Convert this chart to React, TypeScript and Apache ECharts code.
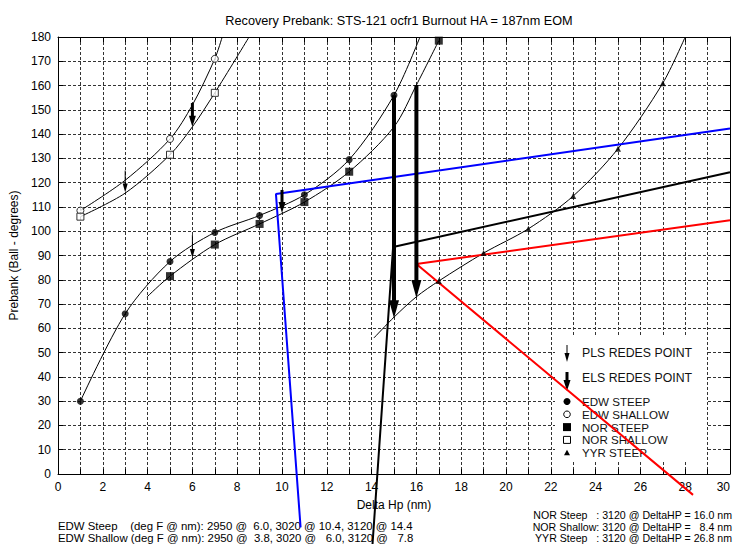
import React, { useEffect, useRef } from "react";
import * as echarts from "echarts";

// ---------- data ----------
const titleText = "Recovery Prebank: STS-121 ocfr1 Burnout HA = 187nm EOM";
const xName = "Delta Hp (nm)";
const yName = "Prebank (Ball - degrees)";

// markers
const edwSteepX = [1, 3, 5, 7, 9, 11, 13, 15];
const edwSteepY = [30, 66, 87.5, 99.5, 106.5, 115, 129.5, 156];
const edwShallowX = [1, 5, 7];
const edwShallowY = [108.5, 138, 171];
const norSteepX = [5, 7, 9, 11, 13, 17];
const norSteepY = [81.5, 94.5, 103, 112, 124.5, 178.5];
const norShallowX = [1, 5, 7];
const norShallowY = [106, 131.5, 157];
const yyrSteepX = [17, 19, 21, 23, 25, 27];
const yyrSteepY = [79.5, 91, 101, 114.5, 134, 161];

// extra curve points (not markers)
const edwSteepCurveExtra = [[16.16, 180]];
const edwShallowCurveExtra = [[3, 121], [6, 152], [7.33, 180]];
const norSteepCurveExtra = [[3.97, 72.9], [15, 143], [16, 160.2]];
const norShallowCurveExtra = [[3, 115.7], [6, 143], [8.53, 180]];
const yyrSteepCurveExtra = [[14.1, 56], [15, 64.6], [16, 73], [28, 180]];

// straight constraint lines (broken lines)
const blueLine = [[10.83, -22], [9.73, 115.3], [30, 142.3]];
const blackLine = [[14.04, -29], [14.96, 93.5], [30, 124.3]];
const redLine = [[28.35, -8.6], [16, 86.5], [30, 104.5]];

// redesignation arrows
const arrowX = [3, 6, 6, 10, 15, 16];
const arrowFrom = [125, 98.4, 152.8, 117, 156, 160.2];
const arrowTo = [116, 89, 143, 107.5, 64.2, 72.5];
const arrowKind = ["PLS", "PLS", "ELS", "ELS", "ELS", "ELS"];

// legend labels
const legendLabels = [
  "PLS REDES POINT",
  "ELS REDES POINT",
  "EDW STEEP",
  "EDW SHALLOW",
  "NOR STEEP",
  "NOR SHALLOW",
  "YYR STEEP",
];

// footnotes
const footLeft = [
  "EDW Steep    (deg F @ nm): 2950 @  6.0, 3020 @ 10.4, 3120 @ 14.4",
  "EDW Shallow (deg F @ nm): 2950 @  3.8, 3020 @   6.0, 3120 @   7.8",
];
const footRight = [
  "NOR Steep   : 3120 @ DeltaHP = 16.0 nm",
  "NOR Shallow: 3120 @ DeltaHP =   8.4 nm",
  "YYR Steep   : 3120 @ DeltaHP = 26.8 nm",
];

// ---------- helpers ----------
const FONT = '"Liberation Sans", Arial, sans-serif';
const zip = (xs: number[], ys: number[]) => xs.map((x, i) => [x, ys[i]]);
const curve = (xs: number[], ys: number[], extra: number[][]) =>
  zip(xs, ys).concat(extra).sort((a, b) => a[0] - b[0]);

const curveSeries = (data: number[][]) => ({
  type: "line",
  data,
  smooth: 0.3,
  showSymbol: false,
  symbol: "none",
  clip: true,
  lineStyle: { color: "#000", width: 1 },
  z: 2,
  silent: true,
});

const markerSeries = (data: number[][], symbol: string, size: number, filled: boolean) => ({
  type: "scatter",
  data,
  symbol,
  symbolSize: size,
  itemStyle: filled
    ? { color: "#000" }
    : { color: "#fff", borderColor: "#000", borderWidth: 1 },
  z: 6,
  silent: true,
});

const straightSeries = (data: number[][], color: string) => ({
  type: "line",
  data,
  symbol: "none",
  clip: false,
  lineStyle: { color, width: 2 },
  z: 4,
  silent: true,
});

export default function App() {
  const ref = useRef<HTMLDivElement>(null);

  useEffect(() => {
    if (!ref.current) return;
    const chart = echarts.init(ref.current, undefined, { renderer: "svg" });

    const arrowData = arrowX.map((x, i) => [x, arrowFrom[i], arrowTo[i], arrowKind[i] === "ELS" ? 1 : 0]);

    const dashed = { type: [3, 2], color: "#333", width: 1 };
    const xAxisBase = {
      type: "value",
      min: 0,
      max: 30,
      interval: 2,
      axisLine: { show: true, onZero: false, lineStyle: { color: "#000", width: 1 } },
      axisTick: { show: true, inside: true, length: 5, lineStyle: { color: "#000" } },
      minorTick: { show: true, splitNumber: 2, length: 5, lineStyle: { color: "#000" } },
    };
    const yAxisBase = {
      type: "value",
      min: 0,
      max: 180,
      interval: 10,
      axisLine: { show: true, onZero: false, lineStyle: { color: "#000", width: 1 } },
      axisTick: { show: true, inside: true, length: 5, lineStyle: { color: "#000" } },
    };

    // legend graphic
    const lx = 567;
    const tx = 582;
    const ly = [353, 378, 401.5, 414.3, 427.1, 439.9, 452.7];
    const legendGraphic: any[] = [
      {
        type: "rect",
        z: 1,
        shape: { x: 555, y: 336, width: 151, height: 125 },
        style: { fill: "#fff" },
        silent: true,
      },
      // thin arrow
      { type: "line", z: 3, shape: { x1: lx, y1: 345, x2: lx, y2: 357 }, style: { stroke: "#000", lineWidth: 1 } },
      { type: "polygon", z: 3, shape: { points: [[lx - 2.5, 353], [lx + 2.5, 353], [lx, 362]] }, style: { fill: "#000" } },
      // thick arrow
      { type: "line", z: 3, shape: { x1: lx, y1: 372, x2: lx, y2: 384 }, style: { stroke: "#000", lineWidth: 3 } },
      { type: "polygon", z: 3, shape: { points: [[lx - 3.5, 380], [lx + 3.5, 380], [lx, 391]] }, style: { fill: "#000" } },
      // markers
      { type: "circle", z: 3, shape: { cx: lx, cy: ly[2], r: 3.5 }, style: { fill: "#000" } },
      { type: "circle", z: 3, shape: { cx: lx, cy: ly[3], r: 3.3 }, style: { fill: "#fff", stroke: "#000", lineWidth: 1 } },
      { type: "rect", z: 3, shape: { x: lx - 4, y: ly[4] - 4, width: 8, height: 8 }, style: { fill: "#000" } },
      { type: "rect", z: 3, shape: { x: lx - 3.5, y: ly[5] - 3.5, width: 7, height: 7 }, style: { fill: "#fff", stroke: "#000", lineWidth: 1 } },
      { type: "polygon", z: 3, shape: { points: [[lx - 3, ly[6] + 2.5], [lx + 3, ly[6] + 2.5], [lx, ly[6] - 3]] }, style: { fill: "#000" } },
    ];
    legendLabels.forEach((t, i) => {
      legendGraphic.push({
        type: "text",
        z: 3,
        x: tx,
        y: ly[i],
        style: { text: t, fill: "#111", font: `${i < 2 ? 12.3 : 11.6}px ${FONT}`, align: "left", verticalAlign: "middle" },
      });
    });
    const footGraphic: any[] = [];
    footLeft.forEach((t, i) => {
      footGraphic.push({
        type: "text",
        z: 3,
        x: 58,
        y: 526 + i * 11.5,
        style: { text: t, fill: "#000", font: `11.4px ${FONT}`, align: "left", verticalAlign: "middle" },
      });
    });
    footRight.forEach((t, i) => {
      footGraphic.push({
        type: "text",
        z: 3,
        x: 732,
        y: 515 + i * 11.5,
        style: { text: t, fill: "#000", font: `10.6px ${FONT}`, align: "right", verticalAlign: "middle" },
      });
    });

    chart.setOption({
      animation: false,
      backgroundColor: "#fff",
      textStyle: { fontFamily: FONT },
      title: {
        text: titleText,
        left: 394,
        top: 9,
        textAlign: "center",
        textStyle: { fontSize: 12.7, fontWeight: "normal", color: "#000", fontFamily: FONT },
      },
      grid: { left: 58, right: 3, top: 37, bottom: 70, show: false, outerBoundsMode: "none", containLabel: false },
      xAxis: [
        {
          ...xAxisBase,
          position: "bottom",
          name: xName,
          nameLocation: "middle",
          nameGap: 25,
          nameTextStyle: { fontSize: 12, color: "#000", fontFamily: FONT },
          axisLabel: { fontSize: 12, color: "#000", margin: 7, fontFamily: FONT, alignMaxLabel: "right" },
          splitLine: { show: true, lineStyle: dashed },
          minorSplitLine: { show: true, lineStyle: dashed },
        },
        {
          ...xAxisBase,
          position: "top",
          axisLabel: { show: false },
          splitLine: { show: false },
        },
      ],
      yAxis: [
        {
          ...yAxisBase,
          position: "left",
          name: yName,
          nameLocation: "middle",
          nameGap: 34,
          nameTextStyle: { fontSize: 12, color: "#000", fontFamily: FONT },
          axisLabel: { fontSize: 12, color: "#000", margin: 7, fontFamily: FONT },
          splitLine: { show: true, lineStyle: dashed },
        },
        {
          ...yAxisBase,
          position: "right",
          axisLabel: { show: false },
          splitLine: { show: false },
        },
      ],
      graphic: { elements: [...legendGraphic, ...footGraphic] },
      series: [
        curveSeries(curve(edwSteepX, edwSteepY, edwSteepCurveExtra)),
        curveSeries(curve(edwShallowX, edwShallowY, edwShallowCurveExtra)),
        curveSeries(curve(norSteepX, norSteepY, norSteepCurveExtra)),
        curveSeries(curve(norShallowX, norShallowY, norShallowCurveExtra)),
        curveSeries(curve(yyrSteepX, yyrSteepY, yyrSteepCurveExtra)),
        straightSeries(blueLine, "#0000ff"),
        straightSeries(blackLine, "#000000"),
        straightSeries(redLine, "#ff0000"),
        markerSeries(zip(edwSteepX, edwSteepY), "circle", 7, true),
        markerSeries(zip(edwShallowX, edwShallowY), "circle", 7, false),
        markerSeries(zip(norSteepX, norSteepY), "rect", 8, true),
        markerSeries(zip(norShallowX, norShallowY), "rect", 7, false),
        markerSeries(zip(yyrSteepX, yyrSteepY), "triangle", 6, true),
        {
          type: "custom",
          data: arrowData,
          encode: { x: 0, y: [1, 2] },
          z: 7,
          silent: true,
          renderItem: (params: any, api: any) => {
            const x = api.value(0);
            const y1 = api.value(1);
            const y2 = api.value(2);
            const thick = api.value(3);
            const a = api.coord([x, y1]);
            const b = api.coord([x, y2]);
            const len = Math.abs(b[1] - a[1]);
            let lw = 1, hw = 5, hh = 9;
            if (thick) {
              if (len > 100) { lw = 4; hw = 10; hh = 18; }
              else { lw = 3; hw = 7; hh = 11; }
            }
            return {
              type: "group",
              children: [
                {
                  type: "line",
                  shape: { x1: a[0], y1: a[1], x2: b[0], y2: b[1] - hh * 0.5 },
                  style: { stroke: "#000", lineWidth: lw },
                },
                {
                  type: "polygon",
                  shape: { points: [[b[0] - hw / 2, b[1] - hh], [b[0] + hw / 2, b[1] - hh], [b[0], b[1]]] },
                  style: { fill: "#000" },
                },
              ],
            };
          },
        },
      ],
    });

    return () => chart.dispose();
  }, []);

  return (
    <div
      ref={ref}
      style={{ position: "fixed", left: 0, top: 0, width: 733, height: 544 }}
    />
  );
}
